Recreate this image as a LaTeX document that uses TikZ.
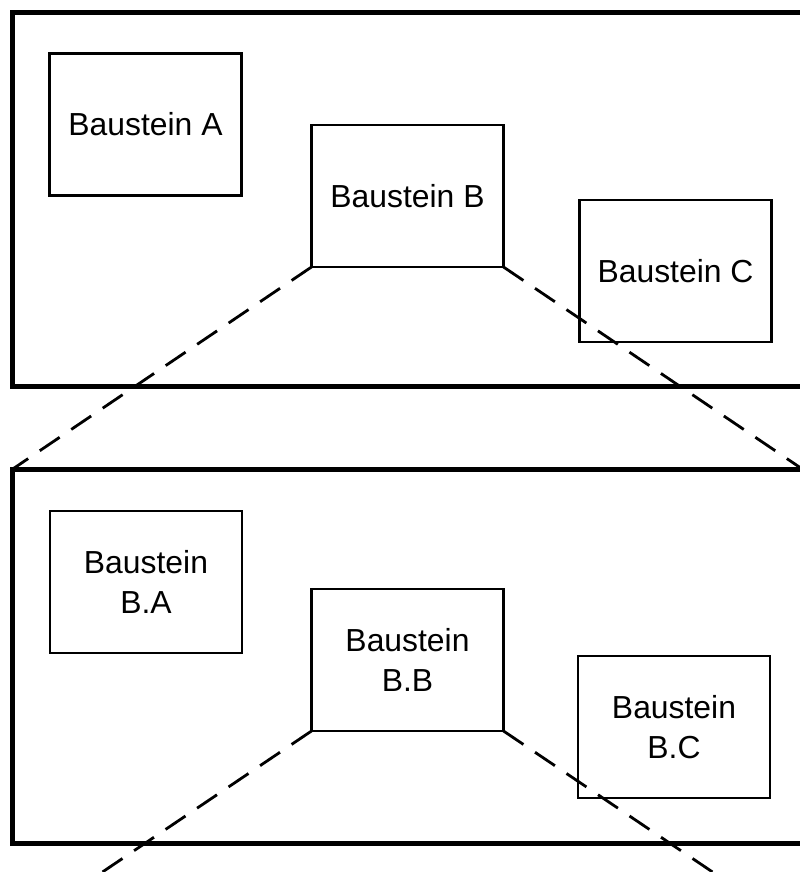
\documentclass[tikz,border=0pt]{standalone}
\usepackage{fontspec}
\setmainfont{Liberation Sans}
\begin{document}
\begin{tikzpicture}[x=0.75pt,y=-0.75pt,
  frame/.style={draw,line width=3.75pt,minimum width=593.25pt,minimum height=280.125pt,inner sep=0pt,outer sep=0pt},
  box/.style={draw,line width=1.9pt,minimum width=144pt,minimum height=106.5pt,inner sep=0pt,outer sep=0pt,align=center,font=\fontsize{23.9pt}{30.5pt}\selectfont},
  zoomline/.style={line width=2.1pt,dash pattern=on 18pt off 10.5pt}]
\useasboundingbox (0,0) rectangle (800,872);
\clip (0,0) rectangle (800,872);
\node[frame] (top) at (407.5,199.25) {};
\node[frame] (bot) at (407.5,656.25) {};
\node[box] (A) at (145.5,124.5) {Baustein A};
\node[box] (B) at (407.5,196) {Baustein B};
\node[box] (C) at (675.5,271) {Baustein C};
\node[box] (BA) at (146,582) {Baustein\\B.A};
\node[box] (BB) at (407.5,660) {Baustein\\B.B};
\node[box] (BC) at (674,727) {Baustein\\B.C};
\coordinate (nl) at (12,933);
\coordinate (nr) at (803,933);
\draw[zoomline] (B.south west) -- (bot.north west);
\draw[zoomline] (B.south east) -- (bot.north east);
\draw[zoomline] (BB.south west) -- (nl);
\draw[zoomline] (BB.south east) -- (nr);
\end{tikzpicture}
\end{document}
